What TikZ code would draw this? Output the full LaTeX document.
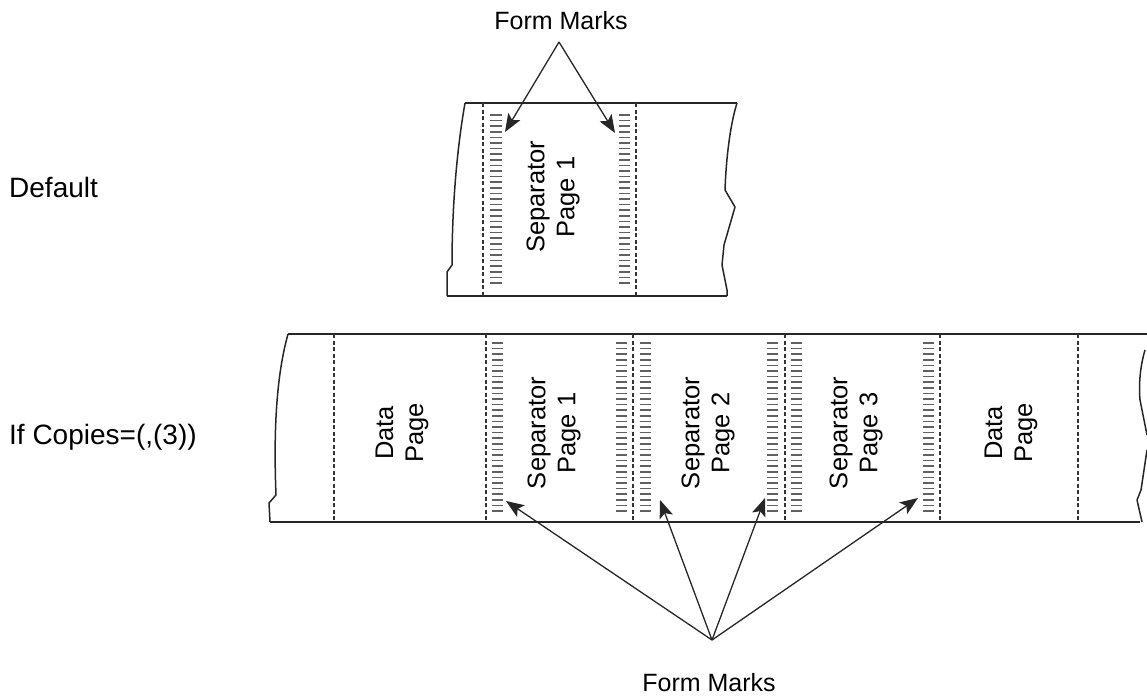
\documentclass[tikz,border=0pt]{standalone}
\usepackage{fontspec}
\setmainfont{Liberation Sans}
\usetikzlibrary{arrows.meta}
\begin{document}
\begin{tikzpicture}[x=1pt,y=-1pt,
  edge/.style={line width=1.5pt,black!85,line join=round},
  perf/.style={line width=1.4pt,black!80,dash pattern=on 4pt off 2.5pt},
  fmline/.style={line width=1.6pt,black!62},
  lbl/.style={font=\fontsize{25}{30}\selectfont,inner sep=0pt},
  sidelbl/.style={font=\fontsize{28}{33}\selectfont,inner sep=0pt},
  vlbl/.style={font=\fontsize{25.5}{30}\selectfont,inner sep=0pt,rotate=90,align=center},
  ptr/.style={line width=1.3pt,black!85,-{Stealth[length=18pt,width=14pt,inset=4pt]}}]
\useasboundingbox (0,0) rectangle (1147,696);

% ---------- top strip ----------
\draw[edge] (465,103) -- (737,103);
\draw[edge] (447,296) -- (727,296);
\draw[edge] (465,103) .. controls (455,160) and (452,220) .. (452,265) -- (447,272) -- (447,296);
\draw[edge] (737,103) .. controls (730,125) and (726,160) .. (725,190) -- (735,207) -- (724,245) -- (722,265) -- (727,290) -- (727,296);
\draw[perf] (483,103) -- (483,296);
\draw[perf] (636,103) -- (636,296);
\foreach \y in {115,120.6,...,286} {
  \draw[fmline] (490,\y) -- (502,\y);
  \draw[fmline] (619,\y) -- (630,\y);
}
\node[vlbl] (tsep1) at (553,197) {Separator\\Page 1};

% ---------- bottom strip ----------
\draw[edge] (288,334) -- (1147,334);
\draw[edge] (270,522) -- (1140,522);
\draw[edge] (288,334) .. controls (278,370) and (273,420) .. (276,495) -- (269,503) -- (270,522);
\draw[edge] (1145,350) .. controls (1139,370) and (1139,390) .. (1140,400) -- (1147,435);
\draw[edge] (1147,450) -- (1141,490) -- (1137,500) -- (1142,522);
\foreach \x in {334,486,633,785,940,1078} \draw[perf] (\x,334) -- (\x,522);
\foreach \y in {343,348.6,...,516} {
  \draw[fmline] (492,\y) -- (503,\y);
  \draw[fmline] (616,\y) -- (627,\y);
  \draw[fmline] (640,\y) -- (651,\y);
  \draw[fmline] (767,\y) -- (778,\y);
  \draw[fmline] (791,\y) -- (802,\y);
  \draw[fmline] (923,\y) -- (934,\y);
}
\node[vlbl] (data1) at (402,433) {Data\\Page};
\node[vlbl] (bsep1) at (554,433) {Separator\\Page 1};
\node[vlbl] (bsep2) at (708,433) {Separator\\Page 2};
\node[vlbl] (bsep3) at (856,433) {Separator\\Page 3};
\node[vlbl] (data2) at (1011,433) {Data\\Page};

% ---------- labels ----------
\node[sidelbl,anchor=west] (default) at (9,187) {Default};
\node[sidelbl,anchor=west] (copies) at (9,437) {If Copies=(,(3))};
\node[lbl] (fmtop) at (561,21) {Form Marks};
\node[lbl] (fmbot) at (709,683) {Form Marks};

% ---------- pointers ----------
\coordinate (tapex) at (559,42);
\coordinate (tt1) at (505,132);
\coordinate (tt2) at (615,133);
\draw[ptr] (tapex) -- (tt1);
\draw[ptr] (tapex) -- (tt2);

\coordinate (bapex) at (712,640);
\coordinate (bt1) at (506,501);
\coordinate (bt2) at (660,500);
\coordinate (bt3) at (765,498);
\coordinate (bt4) at (918,498);
\foreach \t in {bt1,bt2,bt3,bt4} \draw[ptr] (bapex) -- (\t);
\end{tikzpicture}
\end{document}
